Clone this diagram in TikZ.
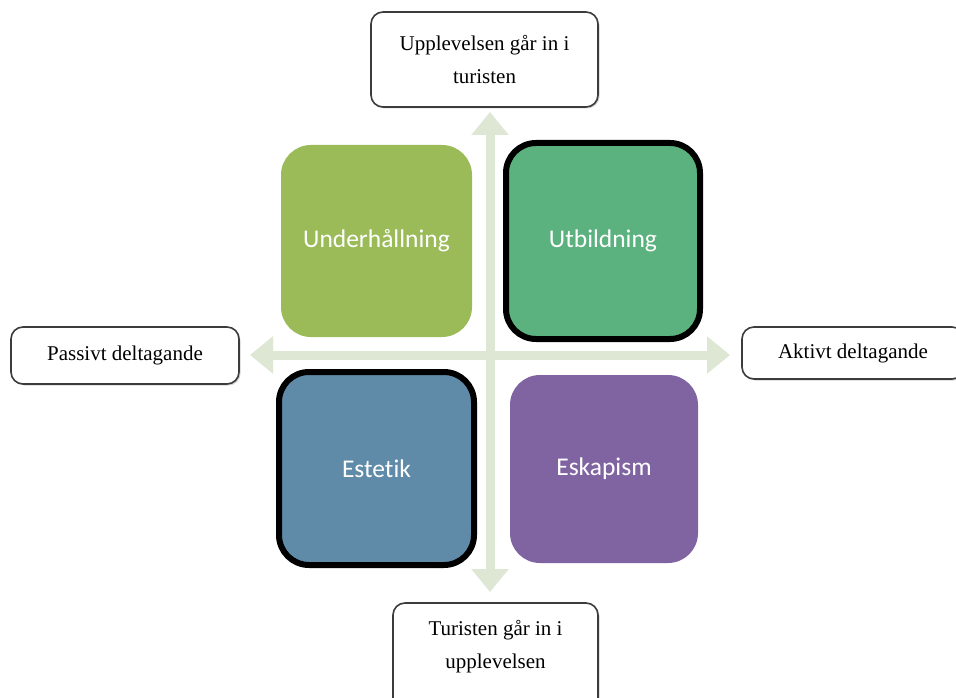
\documentclass[tikz,border=0pt]{standalone}
\usepackage{fontspec}
\setmainfont{Liberation Serif}
\newfontfamily\quadfont[Ligatures={NoCommon,NoRare,NoContextual}]{Carlito}
\usetikzlibrary{arrows.meta,shadows}
\definecolor{axiscol}{RGB}{222,231,212}
\definecolor{ugreen}{RGB}{155,187,89}
\definecolor{egreen}{RGB}{91,178,126}
\definecolor{eblue}{RGB}{95,139,169}
\definecolor{epurple}{RGB}{128,100,162}
\definecolor{edgegray}{RGB}{60,60,60}
\tikzset{
  labelbox/.style={draw=edgegray, line width=1.6pt, rounded corners=12pt, fill=white,
    drop shadow={shadow xshift=1.5pt, shadow yshift=-1.5pt, opacity=0.35},
    align=center, font=\fontsize{21}{33}\selectfont, inner sep=0pt},
  quad/.style={rounded corners=30pt, text=white, font=\quadfont\fontsize{25.5}{30}\selectfont, inner sep=0pt},
  thickrim/.style={draw=black, line width=6pt},
  axisarrow/.style={draw=axiscol, line width=9pt,
    {Triangle[length=23pt,width=36pt]}-{Triangle[length=23pt,width=36pt]}}
}
\begin{document}
\begin{tikzpicture}[x=1pt,y=-1pt]
\clip (0,0) rectangle (956,698);
\fill[white] (0,0) rectangle (956,698);
% axes
\coordinate (L) at (250,355);
\coordinate (R) at (730,355);
\coordinate (T) at (490,112);
\coordinate (B) at (490,592);
\draw[axisarrow] (L) -- (R);
\draw[axisarrow] (T) -- (B);
% quadrants
\node[quad, fill=ugreen, minimum width=191pt, minimum height=192pt] (und) at (376.5,241) {Underh\aa llning};
\node[quad, fill=egreen, thickrim, minimum width=194pt, minimum height=196pt] (utb) at (603,241) {Utbildning};
\node[quad, fill=eblue, thickrim, minimum width=195pt, minimum height=193pt] (est) at (376.5,468.5) {Estetik};
\node[quad, fill=epurple, minimum width=188pt, minimum height=188pt] (esk) at (604,469) {Eskapism};
% label boxes
\node[labelbox, minimum width=227pt, minimum height=95pt] (top) at (484.5,59.5) {Upplevelsen g\aa r in i\\turisten};
\node[labelbox, minimum width=228pt, minimum height=57pt] (left) at (125,355.5) {Passivt deltagande};
\node[labelbox, minimum width=222pt, minimum height=52pt] (right) at (853,353) {Aktivt deltagande};
\node[labelbox, minimum width=205pt, minimum height=120pt] (bot) at (495.5,663) {};
\node[align=center, font=\fontsize{21}{33}\selectfont, inner sep=0pt] (bottext) at (495.5,647) {Turisten g\aa r in i\\upplevelsen};
\end{tikzpicture}
\end{document}
